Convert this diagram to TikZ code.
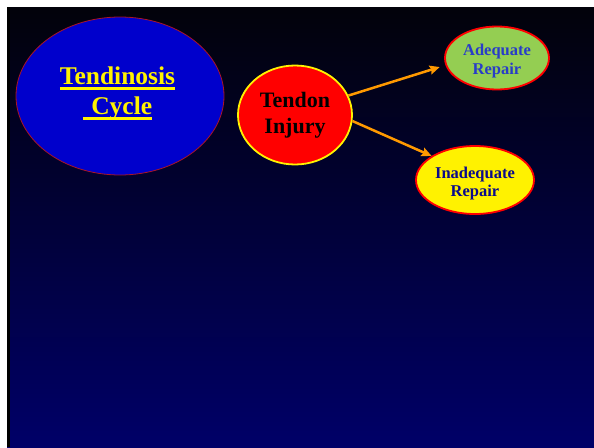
\documentclass[tikz,border=0pt]{standalone}
\usepackage{fontspec}
\setmainfont{Liberation Serif}
\newcommand\myul[1]{\setbox0\hbox{#1}\rlap{\raisebox{-5.6pt}{\rule{\wd0}{2.7pt}}}\box0}
\usetikzlibrary{shapes.geometric,arrows.meta}
\definecolor{bgtop}{RGB}{2,2,10}
\definecolor{bgbot}{RGB}{0,0,104}
\definecolor{bigblue}{RGB}{0,0,204}
\definecolor{rimred}{RGB}{170,20,40}
\definecolor{leaf}{RGB}{148,206,82}
\definecolor{adqtext}{RGB}{40,60,200}
\definecolor{inadtext}{RGB}{10,10,140}
\definecolor{arr}{RGB}{255,153,0}
\tikzset{
  oval/.style={ellipse, inner sep=0pt},
  lbl/.style={inner sep=0pt, align=center},
  flow/.style={draw=arr, line width=2.5pt, -{Stealth[length=10pt,width=9pt,inset=1.5pt]}}
}
\begin{document}
\begin{tikzpicture}[x=1pt,y=-1pt]
\useasboundingbox (0,0) rectangle (594,447);
\fill[white] (0,0) rectangle (594,447);
\shade[top color=bgtop, bottom color=bgbot] (7,7) rectangle (594,447);
\fill[black] (7,7) rectangle (10,447);
\node[oval, draw=rimred, line width=0.8pt, fill=bigblue, minimum width=208pt, minimum height=158pt] (cyc) at (120,96) {};
\node[lbl, text=yellow, font=\bfseries\fontsize{25.5}{30}\selectfont] (cyct) at (117.5,93)
  {\myul{Tendinosis}\\\myul{\hspace{8.5pt}Cycle}};
\node[oval, draw=yellow, line width=1.8pt, fill=red, minimum width=114pt, minimum height=99pt,
  align=center, text=black, font=\bfseries\fontsize{22}{26.5}\selectfont] (inj) at (295,115) {Tendon\\Injury};
\node[oval, draw=red, line width=1.8pt, fill=leaf, minimum width=104pt, minimum height=63pt] (adq) at (497,58) {};
\node[lbl, text=adqtext, font=\bfseries\fontsize{16.5}{19}\selectfont] (adqt) at (497,61) {Adequate\\Repair};
\node[oval, draw=red, line width=1.8pt, fill=yellow, minimum width=118pt, minimum height=68pt] (inad) at (475,180) {};
\node[lbl, text=inadtext, font=\bfseries\fontsize{16.5}{18}\selectfont] (inadt) at (475,184) {Inadequate\\Repair};
\draw[flow, shorten >=6pt] (inj.20) -- (adq.188);
\draw[flow] (inj.-6) -- (inad.151);
\end{tikzpicture}
\end{document}
